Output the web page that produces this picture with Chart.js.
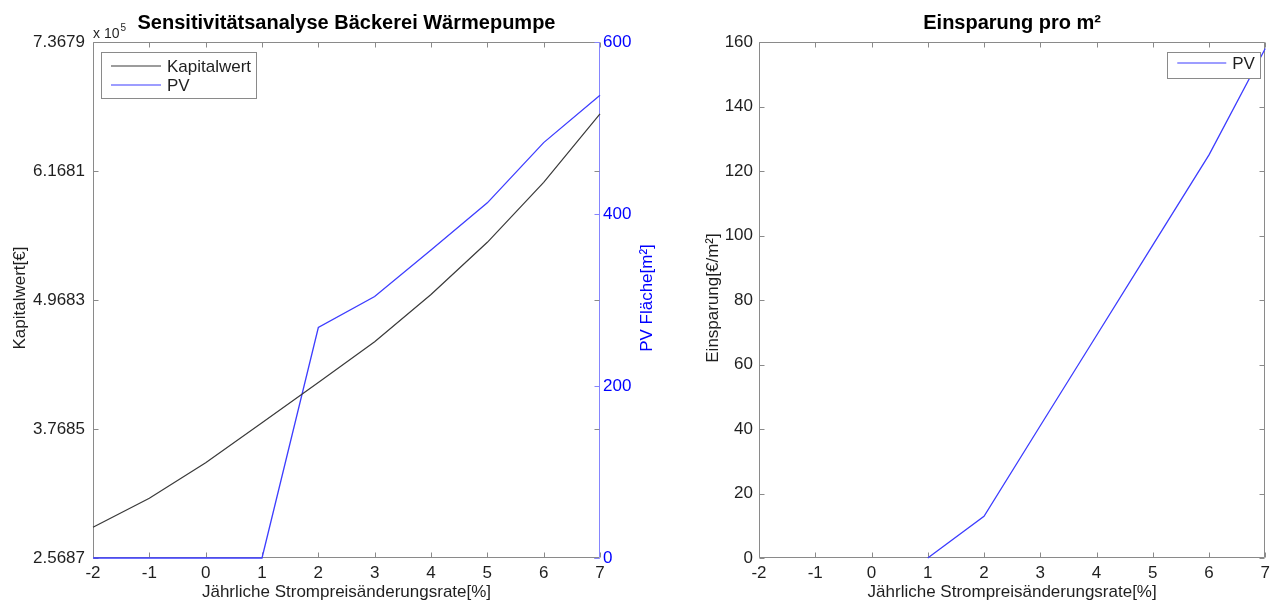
<!DOCTYPE html>
<html>
<head>
<meta charset="utf-8">
<script src="https://cdn.jsdelivr.net/npm/chart.js@4.4.0/dist/chart.umd.min.js"></script>
<style>
  html, body { margin: 0; padding: 0; background: #fff; }
  #fig { position: relative; width: 1275px; height: 602px; overflow: hidden; background: #fff; }
  #fig canvas { position: absolute; top: 0; }
</style>
</head>
<body>
<div id="fig">
  <canvas id="left" width="690" height="602" style="left:0;width:690px;height:602px"></canvas>
  <canvas id="right" width="585" height="602" style="left:690px;width:585px;height:602px"></canvas>
</div>
<script>
// Jährliche Strompreisänderungsrate [%]
const rates = [-2, -1, 0, 1, 2, 3, 4, 5, 6, 7];
// Kapitalwert [€]
const kapitalwert = [285400, 312400, 345500, 382700, 420000, 458000, 502000, 550500, 606300, 670000];
// PV Fläche [m²]
const pvFlaeche = [0, 0, 0, 0, 268, 304, 358, 413, 483, 538];
// Einsparung pro m² [€/m²] (no PV area below 1 %)
const einsparung = [null, null, null, 0, 12.9, 41, 69, 97, 125, 158];

// tick positions and labels
const xTicks = [-2, -1, 0, 1, 2, 3, 4, 5, 6, 7];
const kwTicks = [256870, 376850, 496830, 616810, 736790];
const kwTickLabels = ['2.5687', '3.7685', '4.9683', '6.1681', '7.3679'];
const pvTicks = [0, 200, 400, 600];
const einsparungTicks = [0, 20, 40, 60, 80, 100, 120, 140, 160];

const FONT = "'Liberation Sans', Arial, Helvetica, sans-serif";
const TXT = '#1f1f1f';
const AXIS = '#8a8a8a';
const BLUE = '#0000ff';
const BLUE_AXIS = '#8585ff';
const LINE_BLACK = '#3a3a3a';
const LINE_BLUE = '#3d3dff';

const pts = (ys) => rates.map((r, i) => ({ x: r, y: ys[i] }));
const fixedTicks = (vals) => (s) => { s.ticks = vals.map(v => ({ value: v })); };

// MATLAB-like frame, inward ticks, labels and legend box
const matlabAxes = {
  id: 'matlabAxes',
  beforeDatasetsDraw(chart, args, o) {
    const { ctx, chartArea: ca } = chart;
    const L = Math.round(ca.left) + 0.5, R = Math.round(ca.right) - 0.5;
    const T = Math.round(ca.top) + 0.5, B = Math.round(ca.bottom) - 0.5;
    ctx.save();
    ctx.lineWidth = 1;
    ctx.strokeStyle = AXIS;
    ctx.beginPath();
    ctx.moveTo(R, T); ctx.lineTo(L, T); ctx.lineTo(L, B); ctx.lineTo(R, B);
    if (!o.y2) ctx.lineTo(R, T);
    ctx.stroke();
    if (o.y2) {
      ctx.strokeStyle = BLUE_AXIS;
      ctx.beginPath(); ctx.moveTo(R, T); ctx.lineTo(R, B); ctx.stroke();
    }
    const len = 5;
    const xs = chart.scales.x, ys = chart.scales.y;
    ctx.strokeStyle = AXIS;
    ctx.beginPath();
    xs.ticks.forEach(t => {
      const px = Math.round(xs.getPixelForValue(t.value)) + 0.5;
      ctx.moveTo(px, B); ctx.lineTo(px, B - len);
      ctx.moveTo(px, T); ctx.lineTo(px, T + len);
    });
    ys.ticks.forEach(t => {
      const py = Math.round(ys.getPixelForValue(t.value)) + 0.5;
      ctx.moveTo(L, py); ctx.lineTo(L + len, py);
      ctx.moveTo(R, py); ctx.lineTo(R - len, py);
    });
    ctx.stroke();
    if (o.y2) {
      const y2 = chart.scales.y2;
      ctx.strokeStyle = BLUE_AXIS;
      ctx.beginPath();
      y2.ticks.forEach(t => {
        const py = Math.round(y2.getPixelForValue(t.value)) + 0.5;
        ctx.moveTo(R, py); ctx.lineTo(R - len, py);
      });
      ctx.stroke();
    }
    ctx.restore();
  },
  afterDraw(chart, args, o) {
    const { ctx, chartArea: ca } = chart;
    const cx = (ca.left + ca.right) / 2, cy = (ca.top + ca.bottom) / 2;
    ctx.save();
    ctx.textAlign = 'center';
    ctx.textBaseline = 'middle';
    // title
    ctx.fillStyle = '#000';
    ctx.font = `bold 20px ${FONT}`;
    ctx.fillText(o.title, cx, 23);
    // x label
    ctx.fillStyle = TXT;
    ctx.font = `17px ${FONT}`;
    ctx.fillText(o.xLabel, cx, 592);
    // y label(s), read bottom to top
    const vText = (txt, x, color) => {
      ctx.save();
      ctx.translate(x, cy - 2);
      ctx.rotate(-Math.PI / 2);
      ctx.fillStyle = color;
      ctx.fillText(txt, 0, 0);
      ctx.restore();
    };
    vText(o.yLabel, o.yLabelX, TXT);
    if (o.y2Label) vText(o.y2Label, o.y2LabelX, BLUE);
    // exponent of the left axis
    if (o.exponent) {
      ctx.textAlign = 'left';
      ctx.textBaseline = 'alphabetic';
      ctx.font = `14px ${FONT}`;
      ctx.fillStyle = TXT;
      const base = 'x 10';
      ctx.fillText(base, ca.left, 38);
      const w = ctx.measureText(base).width;
      ctx.font = `10px ${FONT}`;
      ctx.fillText(o.exponent, ca.left + w + 1, 31);
    }
    // legend box
    const lg = o.legend;
    const lx = lg.right != null ? ca.right - lg.right - lg.w : ca.left + lg.left;
    const ly = ca.top + lg.top;
    ctx.fillStyle = '#fff';
    ctx.fillRect(lx, ly, lg.w, lg.h);
    ctx.strokeStyle = AXIS;
    ctx.lineWidth = 1;
    ctx.strokeRect(Math.round(lx) + 0.5, Math.round(ly) + 0.5, lg.w, lg.h);
    ctx.font = `17px ${FONT}`;
    ctx.textAlign = 'left';
    ctx.textBaseline = 'middle';
    chart.data.datasets.forEach((ds, i) => {
      const ry = ly + lg.rowY[i];
      ctx.strokeStyle = ds.borderColor;
      ctx.lineWidth = 1.2;
      ctx.beginPath();
      ctx.moveTo(lx + 10, ry); ctx.lineTo(lx + 10 + lg.lineW, ry);
      ctx.stroke();
      ctx.fillStyle = TXT;
      ctx.fillText(ds.label, lx + 16 + lg.lineW, ry + 1);
    });
    ctx.restore();
  }
};

const tickFont = { family: FONT, size: 17 };

const xScale = (height) => ({
  type: 'linear', min: -2, max: 7,
  afterBuildTicks: fixedTicks(xTicks),
  grid: { display: false, drawTicks: false },
  border: { display: false },
  ticks: { font: tickFont, color: TXT, padding: 5, autoSkip: false, maxRotation: 0 },
  afterFit: (s) => { s.height = height; }
});

new Chart(document.getElementById('left'), {
  type: 'line',
  data: {
    datasets: [
      { label: 'Kapitalwert', data: pts(kapitalwert), yAxisID: 'y',
        borderColor: LINE_BLACK, borderWidth: 1.2, pointRadius: 0, tension: 0, clip: 3 },
      { label: 'PV', data: pts(pvFlaeche), yAxisID: 'y2',
        borderColor: LINE_BLUE, borderWidth: 1.3, pointRadius: 0, tension: 0, clip: 3 }
    ]
  },
  options: {
    responsive: false, animation: false, devicePixelRatio: 1,
    layout: { padding: { top: 42, left: 0, right: 0, bottom: 0 } },
    plugins: {
      legend: { display: false }, tooltip: { enabled: false }, title: { display: false },
      matlabAxes: {
        title: 'Sensitivitätsanalyse Bäckerei Wärmepumpe',
        xLabel: 'Jährliche Strompreisänderungsrate[%]',
        yLabel: 'Kapitalwert[€]', yLabelX: 20,
        y2: true, y2Label: 'PV Fläche[m²]', y2LabelX: 647,
        exponent: '5',
        legend: { left: 8, top: 10, w: 155, h: 46, rowY: [14, 33], lineW: 50 }
      }
    },
    scales: {
      x: xScale(44),
      y: {
        type: 'linear', position: 'left', min: kwTicks[0], max: kwTicks[kwTicks.length - 1],
        afterBuildTicks: fixedTicks(kwTicks),
        grid: { display: false, drawTicks: false }, border: { display: false },
        ticks: { font: tickFont, color: TXT, padding: 8, autoSkip: false,
                 callback: (v, i) => kwTickLabels[i] },
        afterFit: (s) => { s.width = 93; }
      },
      y2: {
        type: 'linear', position: 'right', min: 0, max: 600,
        afterBuildTicks: fixedTicks(pvTicks),
        grid: { display: false, drawTicks: false }, border: { display: false },
        ticks: { font: tickFont, color: BLUE, padding: 3, autoSkip: false },
        afterFit: (s) => { s.width = 90; }
      }
    }
  },
  plugins: [matlabAxes]
});

new Chart(document.getElementById('right'), {
  type: 'line',
  data: {
    datasets: [
      { label: 'PV', data: pts(einsparung), yAxisID: 'y', spanGaps: false,
        borderColor: LINE_BLUE, borderWidth: 1.3, pointRadius: 0, tension: 0, clip: 3 }
    ]
  },
  options: {
    responsive: false, animation: false, devicePixelRatio: 1,
    layout: { padding: { top: 42, left: 0, right: 8, bottom: 0 } },
    plugins: {
      legend: { display: false }, tooltip: { enabled: false }, title: { display: false },
      matlabAxes: {
        title: 'Einsparung pro m²',
        xLabel: 'Jährliche Strompreisänderungsrate[%]',
        yLabel: 'Einsparung[€/m²]', yLabelX: 23,
        legend: { right: 5, top: 10, w: 93, h: 26, rowY: [11], lineW: 49 }
      }
    },
    scales: {
      x: xScale(44),
      y: {
        type: 'linear', position: 'left', min: 0, max: 160,
        afterBuildTicks: fixedTicks(einsparungTicks),
        grid: { display: false, drawTicks: false }, border: { display: false },
        ticks: { font: tickFont, color: TXT, padding: 6, autoSkip: false },
        afterFit: (s) => { s.width = 69; }
      }
    }
  },
  plugins: [matlabAxes]
});
</script>
</body>
</html>
